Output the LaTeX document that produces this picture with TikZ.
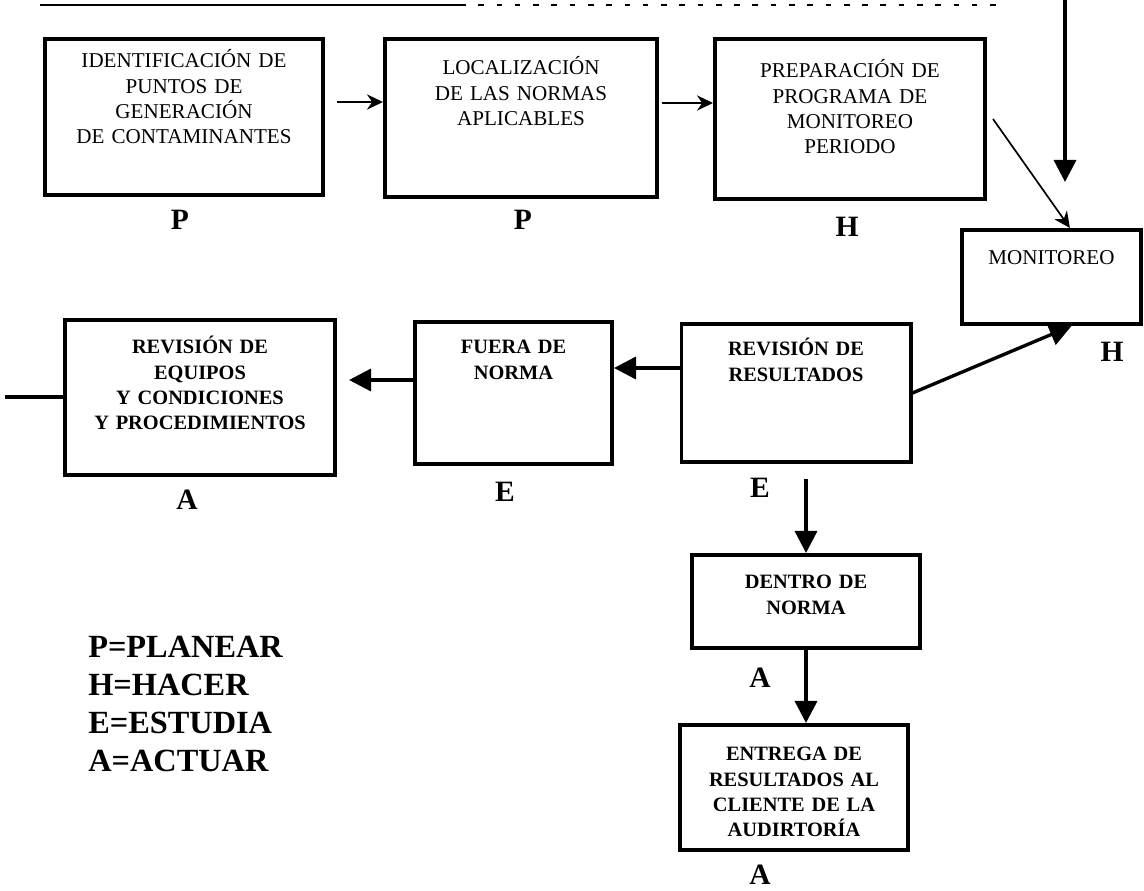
\documentclass[tikz,border=0pt]{standalone}
\usepackage{fontspec}
\setmainfont{Liberation Serif}
\usetikzlibrary{arrows.meta}
\tikzset{stage/.style={rectangle, draw, line width=2.8pt, anchor=north, align=center, inner sep=0pt,
 font=\fontsize{15}{17.8}\selectfont}}
\tikzset{check/.style={rectangle, draw, line width=2.8pt, anchor=north, align=center, inner sep=0pt,
 font=\bfseries\fontsize{14.5}{17.8}\selectfont}}
\tikzset{phase/.style={inner sep=0pt, font=\bfseries\fontsize{21}{24}\selectfont}}
\tikzset{pointer/.style={draw, line width=1.2pt, -{Stealth[length=0.4cm, width=0.38cm]}}}
\tikzset{line/.style={draw, line width=2.4pt, -{Triangle[length=0.55cm, width=0.55cm]}}}

\begin{document}
\begin{tikzpicture}[x=0.025cm, y=-0.025cm]
        \useasboundingbox (0,0) rectangle (1144,891);
        \draw[line width=1.4pt] (40,5) -- (460,5);
        \draw[line width=0.8pt, dash pattern=on 4pt off 9pt] (460,5) -- (1000,5);

        % plan
        \node[stage, text width=6.95cm, text height=0.725cm, text depth=3.175cm] (idpc) at (184,37)
            {IDENTIFICACIÓN DE\\PUNTOS DE\\GENERACIÓN\\DE CONTAMINANTES};
        \node[stage, text width=6.8cm, text height=0.9cm, text depth=3.05cm] (locn) at (521,37)
            {LOCALIZACIÓN\\DE LAS NORMAS\\APLICABLES};
        \node[stage, text width=6.75cm, text height=0.975cm, text depth=3.025cm] (prep) at (850,37)
            {PREPARACIÓN DE\\PROGRAMA DE\\MONITOREO\\PERIODO};
        \node[stage, text width=4.475cm, text height=0.875cm, text depth=1.475cm] (monit) at (1051.5,228)
            {MONITOREO};

        % check / act
        \node[check, text width=5.725cm, text height=0.8cm, text depth=2.65cm] (resres) at (796,322)
            {REVISIÓN DE\\RESULTADOS};
        \node[check, text width=4.925cm, text height=0.8cm, text depth=2.75cm] (fuera) at (513.5,320)
            {FUERA DE\\NORMA};
        \node[check, text width=6.75cm, text height=0.85cm, text depth=3.025cm] (reveq) at (200,318)
            {REVISIÓN DE\\EQUIPOS\\Y CONDICIONES\\Y PROCEDIMIENTOS};
        \node[check, text width=5.7cm, text height=0.85cm, text depth=1.475cm] (dentro) at (806,553)
            {DENTRO DE\\NORMA};
        \node[check, text width=5.7cm, text height=0.9cm, text depth=2.225cm] (entrega) at (794,723)
            {ENTREGA DE\\RESULTADOS AL\\CLIENTE DE LA\\AUDIRTORÍA};

        % letters
        \node[phase] (pidpc) at (180,220) {P};
        \node[phase] (plocn) at (523,220) {P};
        \node[phase] (hprep) at (847,227) {H};
        \node[phase] (hmonit) at (1112,352) {H};
        \node[phase] (efuera) at (505,492) {E};
        \node[phase] (areveq) at (187,500) {A};
        \node[phase] (eresres) at (760,488) {E};
        \node[phase] (adentro) at (760,678) {A};
        \node[phase] (aentrega) at (760,875) {A};

        \node[anchor=north west, align=left, inner sep=0pt, font=\bfseries\fontsize{23}{27}\selectfont] (legend) at (88,636)
            {P=PLANEAR\\H=HACER\\E=ESTUDIA\\A=ACTUAR};

        \coordinate (feed) at (1065,0);
        \coordinate (feedend) at (1065,182);
        \coordinate (loose) at (5,397);

        \path[pointer] ([xshift=0.3cm]idpc.east |- 0,102) -- (locn.west |- 0,102);
        \path[pointer] ([xshift=0.08cm]locn.east |- 0,103) -- (prep.west |- 0,103);
        \path[pointer] ([xshift=0.15cm]prep.east) -- ([xshift=0.46cm]monit.north);
        \path[line] (feed) -- (feedend);
        \path[line] (resres.east) -- ([xshift=0.5cm]monit.south);
        \path[line] (resres.west |- 0,368) -- (fuera.east |- 0,368);
        \path[line] (fuera.west |- 0,380) -- ([xshift=0.3cm]reveq.east |- 0,380);
        \draw[line width=2.4pt] (loose) -- (reveq.west |- loose);
        \path[line] ([yshift=-0.375cm]resres.south -| dentro.north) -- (dentro.north);
        \path[line] (dentro.south) -- (dentro.south |- entrega.north);
      \end{tikzpicture}
\end{document}
